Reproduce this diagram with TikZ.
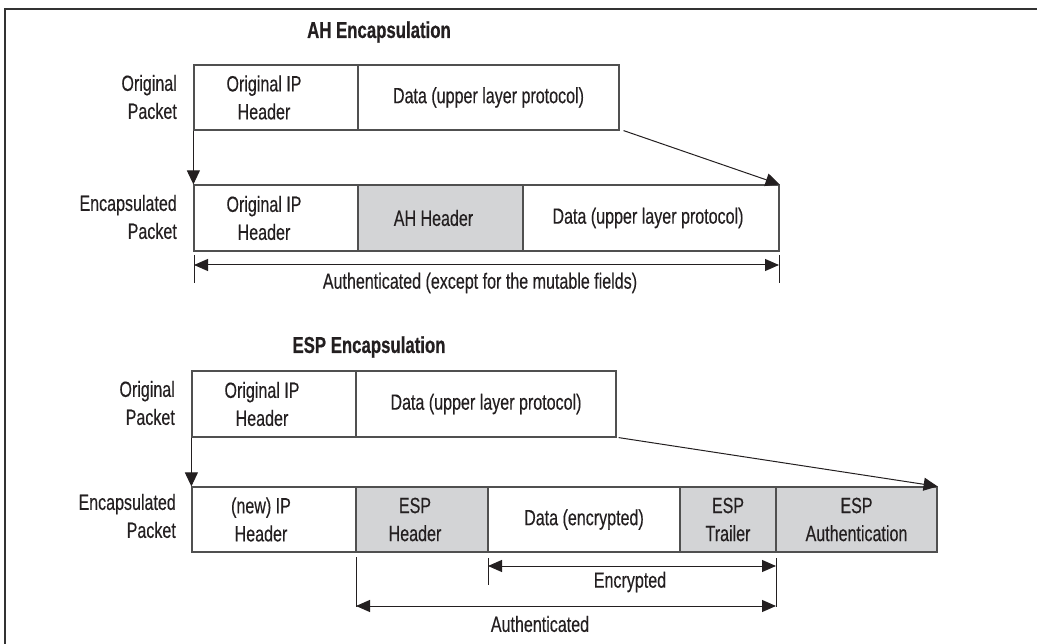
\documentclass[tikz,border=0pt]{standalone}
\usepackage{fontspec}
\setmainfont{Liberation Sans}[FakeStretch=0.73, FakeBold=0.35, BoldFeatures={FakeBold=0.6}]
\usetikzlibrary{arrows.meta}
\definecolor{ink}{HTML}{231F20}
\definecolor{boxline}{HTML}{505050}
\definecolor{shade}{HTML}{D3D4D6}
\definecolor{frame}{HTML}{333333}
\begin{document}
\begin{tikzpicture}[x=1pt,y=-1pt,
  txt/.style={font=\fontsize{22}{28}\selectfont, text=ink},
  cell/.style={txt, draw=boxline, line width=1.2pt, inner sep=0pt, align=center},
  hdr/.style={cell, fill=shade},
  shifted/.style={label={[txt, align=center, xshift=#1]center:\celltext}},
  side/.style={txt, align=right, anchor=east, inner sep=0pt},
  title/.style={font=\fontsize{23}{25}\selectfont\bfseries, text=ink},
  conn/.style={draw=ink, line width=1pt, -{Triangle[length=14pt,width=13pt]}},
  dim/.style={draw=ink, line width=1pt, {Triangle[length=14pt,width=12pt]}-{Triangle[length=14pt,width=12pt]}},
  tick/.style={draw=ink, line width=1pt},
  dimlabel/.style={txt, inner sep=0pt}
]
\useasboundingbox (0,0) rectangle (1037,644);
\draw[line width=2pt, draw=frame] (5,644) -- (5,9) -- (1037,9);

% ---------- AH ----------
\node[title] (ahtitle) at (379,32) {AH Encapsulation};
\node[side] (ahlo) at (177,97) {Original\\Packet};
\node[side] (ahle) at (177,217) {Encapsulated\\Packet};

\node[cell, minimum width=164pt, minimum height=65pt] (aho1) at (276,97.5) {\hspace*{-24pt}Original IP\\\hspace*{-24pt}Header};
\node[cell, minimum width=261pt, minimum height=65pt] (aho2) at (488.5,97.5) {Data (upper layer protocol)};

\node[cell, minimum width=164pt, minimum height=66pt] (ahe1) at (276,218) {\hspace*{-24pt}Original IP\\\hspace*{-24pt}Header};
\node[hdr,  minimum width=165pt, minimum height=66pt] (ahe2) at (440.5,218) {\hspace*{-14pt}AH Header};
\node[cell, minimum width=256pt, minimum height=66pt] (ahe3) at (651,218) {\hspace*{-6pt}Data (upper layer protocol)};

\draw[conn] (aho1.south west) -- (ahe1.north west);
\draw[conn] ([xshift=4pt]aho2.south east) -- (ahe3.north east);

\coordinate (ahdL) at (194,265);
\coordinate (ahdR) at (779,265);
\coordinate (ahtL1) at (194,255); \coordinate (ahtL2) at (194,283);
\coordinate (ahtR1) at (779,255); \coordinate (ahtR2) at (779,283);
\draw[dim] (ahdL) -- (ahdR);
\draw[tick] (ahtL1) -- (ahtL2);
\draw[tick] (ahtR1) -- (ahtR2);
\node[dimlabel] (ahauth) at (480,283) {Authenticated (except for the mutable fields)};

% ---------- ESP ----------
\node[title] (esptitle) at (369,347) {ESP Encapsulation};
\node[side] (esplo) at (175,403) {Original\\Packet};
\node[side] (esple) at (176,516) {Encapsulated\\Packet};

\node[cell, minimum width=164pt, minimum height=66pt] (espo1) at (274,404) {\hspace*{-24pt}Original IP\\\hspace*{-24pt}Header};
\node[cell, minimum width=260pt, minimum height=66pt] (espo2) at (486,404) {Data (upper layer protocol)};

\node[cell, minimum width=164pt, minimum height=65pt] (espe1) at (274,519.5) {\hspace*{-26pt}(new) IP\\\hspace*{-26pt}Header};
\node[hdr,  minimum width=132pt, minimum height=65pt] (espe2) at (422,519.5) {\hspace*{-14pt}ESP\\\hspace*{-14pt}Header};
\node[cell, minimum width=192pt, minimum height=65pt] (espe3) at (584,519.5) {Data (encrypted)};
\node[hdr,  minimum width=96pt,  minimum height=65pt] (espe4) at (728,519.5) {ESP\\Trailer};
\node[hdr,  minimum width=161pt, minimum height=65pt] (espe5) at (856.5,519.5) {ESP\\Authentication};

\draw[conn] (espo1.south west) -- (espe1.north west);
\draw[conn] ([xshift=2pt]espo2.south east) -- (espe5.north east);

\coordinate (encL) at (488,566);
\coordinate (encR) at (776,566);
\coordinate (autL) at (356,606);
\coordinate (autR) at (776,606);
\coordinate (tkE1) at (488,558); \coordinate (tkE2) at (488,585);
\coordinate (tkA1) at (356,557); \coordinate (tkA2) at (356,607);
\coordinate (tkR1) at (776,558); \coordinate (tkR2) at (776,607);
\draw[dim] (encL) -- (encR);
\draw[dim] (autL) -- (autR);
\draw[tick] (tkE1) -- (tkE2);
\draw[tick] (tkA1) -- (tkA2);
\draw[tick] (tkR1) -- (tkR2);
\node[dimlabel] (enclab) at (630,582) {Encrypted};
\node[dimlabel] (autlab) at (540,624) {Authenticated};
\end{tikzpicture}
\end{document}
